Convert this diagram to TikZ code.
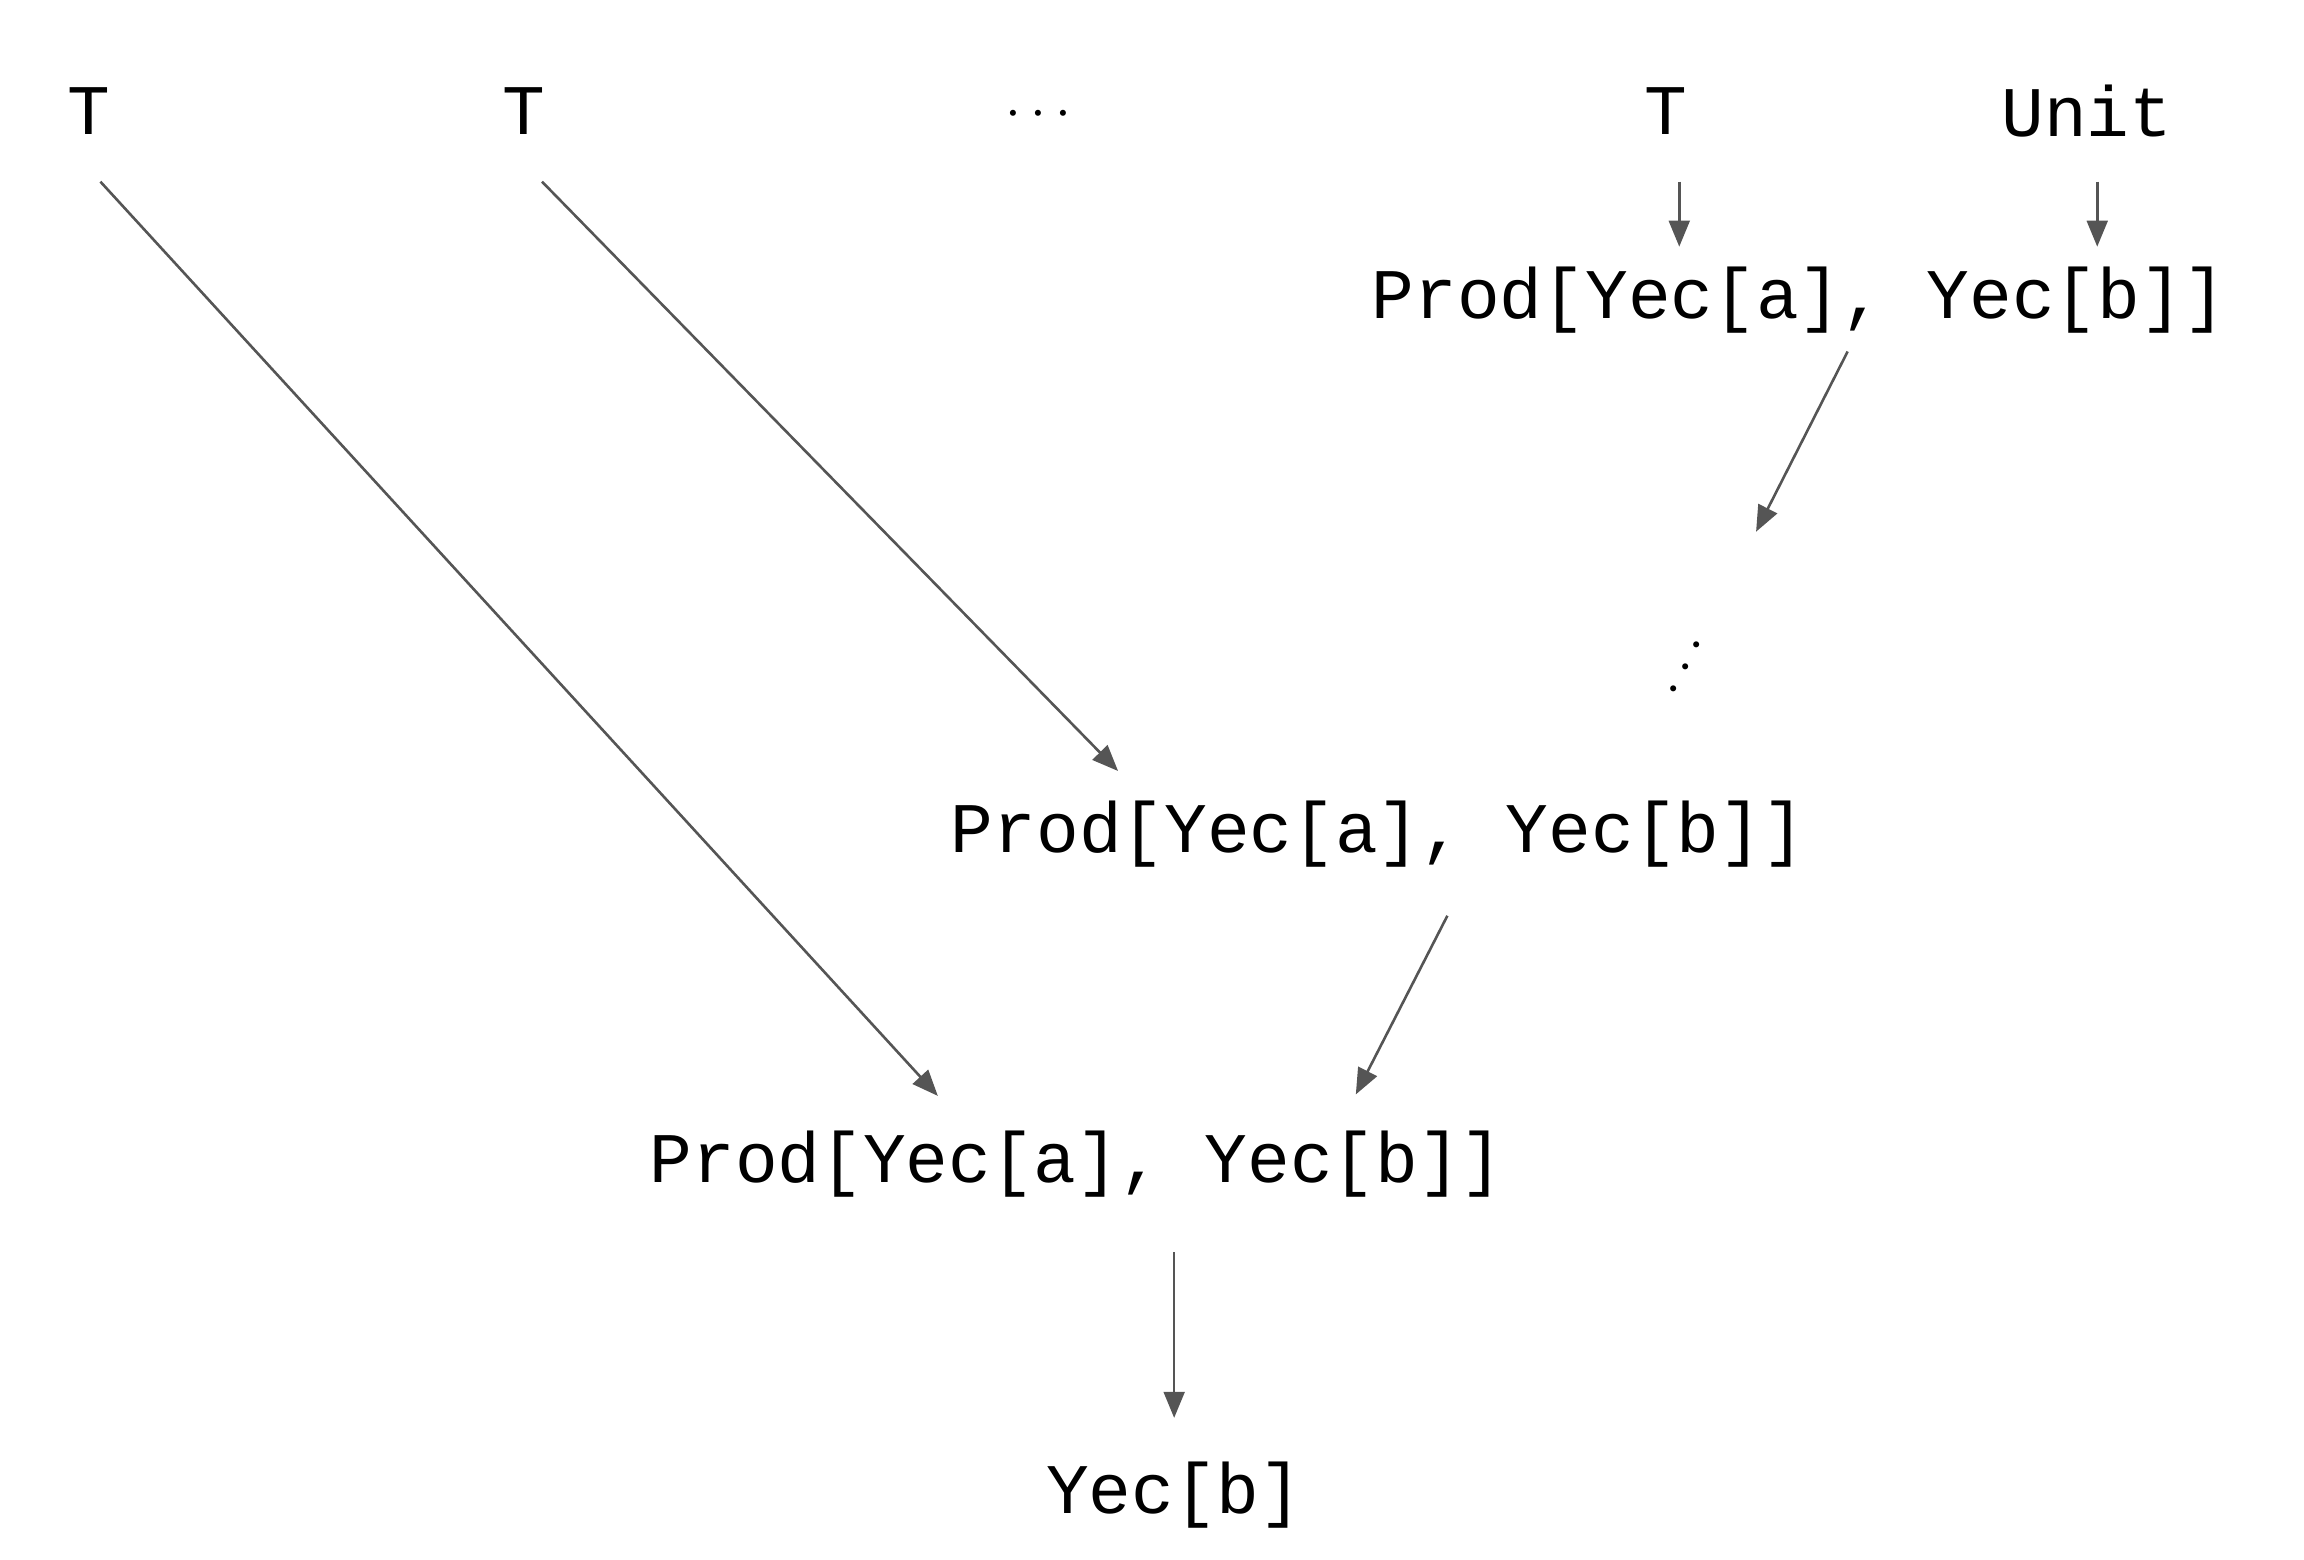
\documentclass[tikz,border=0pt]{standalone}
\usepackage{fontspec}
\setmonofont{Liberation Mono}
\usetikzlibrary{arrows.meta}
\definecolor{arrowgray}{HTML}{555555}
\begin{document}
\begin{tikzpicture}[
      x=0.01cm, y=-0.01cm,
      every node/.style={font=\fontsize{13.7}{16}\ttfamily, inner sep=0pt},
      dotsnode/.style={font=\fontsize{11}{12}\selectfont},
      pointer/.style={draw=arrowgray, line width=0.5pt, -{Triangle[length=5pt,width=4pt]}}
      ]
      \useasboundingbox (0,0) rectangle (1560,1056);
      \node (t1) at (60,75) {T};
      \node (t2) at (355,75) {T};
      \node[dotsnode] (hdots) at (703,78) {$\cdots$};
      \node (t3) at (1128,75) {T};
      \node (unit) at (1413,75) {Unit};
      \node (prodtop) at (1218,203) {Prod[Yec[a], Yec[b]]};
      \node[dotsnode, rotate=62] (vdots) at (1142,452) {$\cdots$};
      \node (prodmid) at (933,565) {Prod[Yec[a], Yec[b]]};
      \node (prodlow) at (729,788) {Prod[Yec[a], Yec[b]]};
      \node (result) at (795,1012) {Yec[b]};
      % arrow end points
      \coordinate (a1) at (68,123);   \coordinate (b1) at (635,742);
      \coordinate (a2) at (367,123);  \coordinate (b2) at (757,522);
      \coordinate (a3) at (1137,123); \coordinate (b3) at (1137,167);
      \coordinate (a4) at (1420,123); \coordinate (b4) at (1420,167);
      \coordinate (a5) at (1251,238); \coordinate (b5) at (1189,360);
      \coordinate (a6) at (980,620);  \coordinate (b6) at (918,741);
      \coordinate (a7) at (795,848);  \coordinate (b7) at (795,960);
      \foreach \i in {1,...,7}
        \draw[pointer] (a\i) -- (b\i);
\end{tikzpicture}
\end{document}
